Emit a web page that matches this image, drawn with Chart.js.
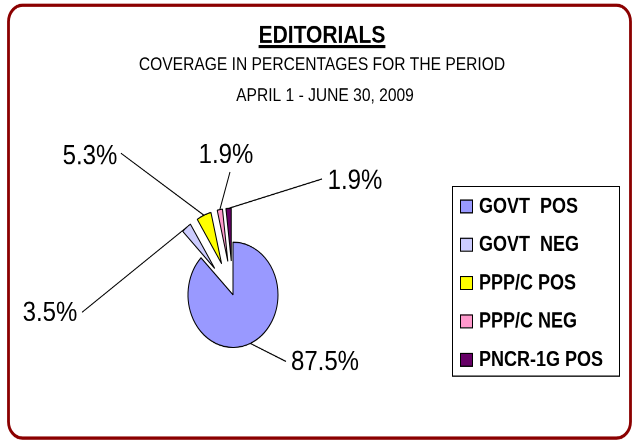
<!DOCTYPE html>
<html>
<head>
<meta charset="utf-8">
<script src="https://cdn.jsdelivr.net/npm/chart.js@4.4.1/dist/chart.umd.min.js"></script>
<style>
  html, body { margin: 0; padding: 0; background: #fff; }
  /* the original picture is stretched vertically: draw flat, then stretch the canvas */
  #editorials { display: block; width: 633px !important; height: 441px !important; }
</style>
</head>
<body>
<canvas id="editorials" width="633" height="377"></canvas>
<script>
const categories = ['GOVT  POS', 'GOVT  NEG', 'PPP/C POS', 'PPP/C NEG', 'PNCR-1G POS'];
const percentages = [87.5, 3.5, 5.3, 1.9, 1.9];
const sliceColors = ['#9999FF', '#CCCCFF', '#FFFF00', '#FF99CC', '#660066'];
const explode = [0, 29, 29, 29, 29]; // px each slice is pulled out
const titleText = 'EDITORIALS';
const subtitleLines = ['COVERAGE IN PERCENTAGES FOR THE PERIOD', 'APRIL 1 - JUNE 30, 2009'];

// where each value label sits: text centre x,y and where its leader line starts
const labelPlace = [
  [325, 310, 286, 309],
  [50, 268, 82, 267],
  [90, 134, 121, 131],
  [226, 133, 230, 147],
  [355, 155, 322, 153]
];

const FONT = '"Liberation Sans", Arial, sans-serif';

function midAngle(arc) {
  const p = arc.getProps(['startAngle', 'endAngle']);
  return (p.startAngle + p.endAngle) / 2;
}

const framePlugin = {
  id: 'frame',
  beforeDraw(chart) {
    const c = chart.ctx;
    c.save();
    c.fillStyle = '#fff';
    c.fillRect(0, 0, chart.width, chart.height);
    c.strokeStyle = '#8B0000';
    c.lineWidth = 2.8;
    c.beginPath();
    c.roundRect(8.5, 4.5, 622, 370, 14);
    c.stroke();
    c.restore();
  },
  // draw the arcs ourselves so each one can be pulled out by a plain translate
  beforeDatasetDraw(chart, args) {
    const c = chart.ctx;
    args.meta.data.forEach((arc, i) => {
      const mid = midAngle(arc);
      c.save();
      c.translate(Math.cos(mid) * explode[i], Math.sin(mid) * explode[i]);
      arc.draw(c, chart.chartArea);
      c.restore();
    });
    return false;
  },
  afterDraw(chart) {
    const c = chart.ctx;
    c.save();
    c.fillStyle = '#000';
    c.textAlign = 'center';
    c.textBaseline = 'alphabetic';

    // title, underlined
    c.font = 'bold 21px ' + FONT;
    c.fillText(titleText, 322, 36.5);
    const tw = c.measureText(titleText).width;
    c.fillRect(322 - tw / 2, 38.5, tw, 2.6);

    c.font = '15.6px ' + FONT;
    c.fillText(subtitleLines[0], 322, 60);
    c.fillText(subtitleLines[1], 325, 86.5);

    // value labels and leader lines
    const arcs = chart.getDatasetMeta(0).data;
    c.font = '24px ' + FONT;
    c.textBaseline = 'middle';
    c.strokeStyle = '#000';
    c.lineWidth = 1;
    arcs.forEach((arc, i) => {
      const p = arc.getProps(['x', 'y', 'outerRadius']);
      const mid = midAngle(arc);
      const r = p.outerRadius + explode[i];
      const ax = p.x + Math.cos(mid) * r;
      const ay = p.y + Math.sin(mid) * r;
      const pl = labelPlace[i];
      c.beginPath();
      c.moveTo(pl[2], pl[3]);
      c.lineTo(ax, ay);
      c.stroke();
      c.fillText(percentages[i].toFixed(1) + '%', pl[0], pl[1]);
    });

    // legend box
    c.lineWidth = 1;
    c.strokeRect(452.5, 159.5, 167, 162);
    c.font = 'bold 18px ' + FONT;
    c.textAlign = 'left';
    categories.forEach((name, i) => {
      const y = 176 + i * 32.75;
      c.fillStyle = sliceColors[i];
      c.fillRect(460, y - 5.5, 12, 11);
      c.strokeRect(460.5, y - 5, 12, 11);
      c.fillStyle = '#000';
      c.fillText(name, 479, y + 1);
    });
    c.restore();
  }
};

const ctx = document.getElementById('editorials').getContext('2d');
const pieChart = new Chart(ctx, {
  type: 'pie',
  data: {
    labels: categories,
    datasets: [{
      data: percentages,
      backgroundColor: sliceColors,
      borderColor: '#000',
      borderWidth: 1,
      hoverOffset: 0
    }]
  },
  options: {
    responsive: false,
    animation: false,
    devicePixelRatio: 2,
    radius: 45,
    layout: { padding: { left: 133, right: 300, top: 152, bottom: 25 } },
    plugins: {
      legend: { display: false },
      title: { display: false },
      tooltip: { enabled: false }
    }
  },
  plugins: [framePlugin]
});
</script>
</body>
</html>
